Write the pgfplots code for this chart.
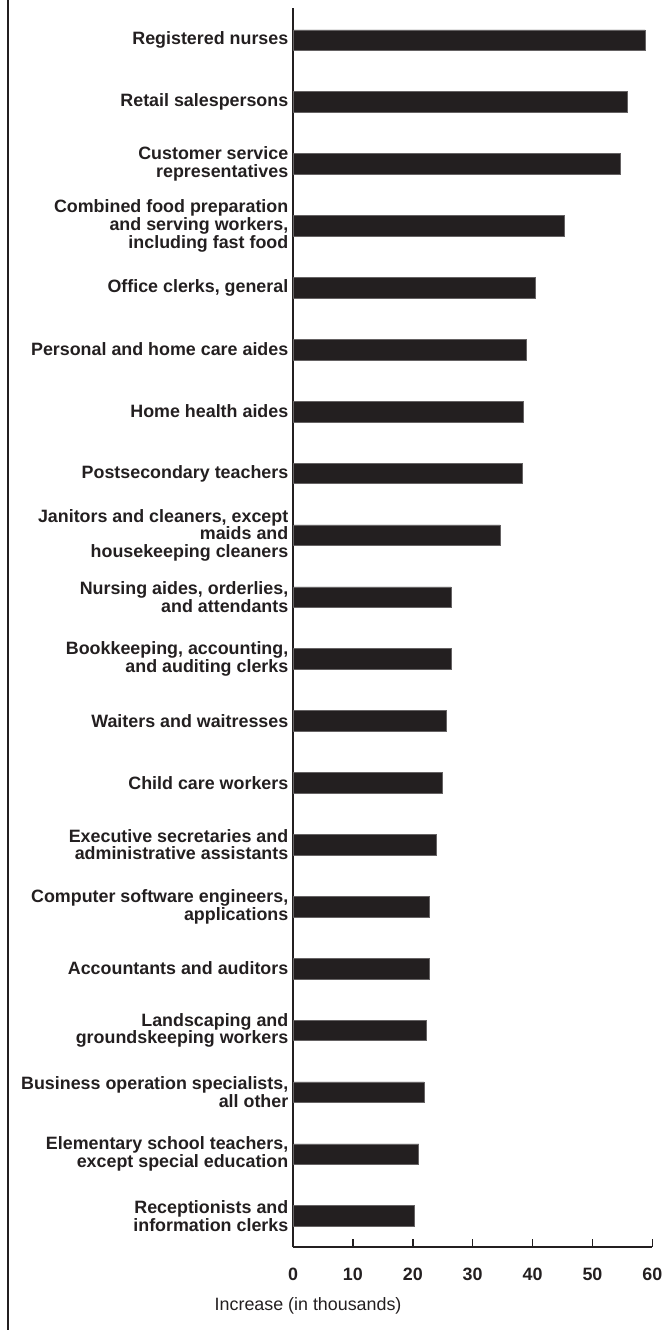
\documentclass[border=0pt]{standalone}
\usepackage{fontspec}
\setmainfont{Liberation Sans}
\usepackage{pgfplots}
\pgfplotsset{compat=1.18}
\definecolor{barblack}{RGB}{35,31,32}

\pgfplotstableread{
y  val
0  20.3
1  21.0
2  21.9
3  22.2
4  22.7
5  22.7
6  24.0
7  24.9
8  25.6
9  26.4
10 26.4
11 34.6
12 38.3
13 38.4
14 38.9
15 40.5
16 45.3
17 54.6
18 55.8
19 58.8
}\jobs

\begin{document}
\begin{tikzpicture}
\useasboundingbox (-219.75pt,-62.25pt) rectangle (282.75pt,935.25pt);
% frame edge on the left
\draw[line width=1.8pt, barblack] (-213.75pt,-62.25pt) -- (-213.75pt,935.25pt);
\begin{axis}[
    at={(0,0)}, anchor=south west,
    scale only axis,
    width=269.5pt, height=929.25pt,
    xbar, bar width=15.5pt,
    xmin=0, xmax=60,
    ymin=-0.5, ymax=19.52,
    axis lines*=left,
    axis line style={line width=1.5pt, barblack},
    xtick={0,10,...,60},
    tick align=inside,
    major tick length=6pt,
    xtick style={line width=1.2pt, barblack},
    ytick={0,...,19},
    ytick style={draw=none},
    /pgf/number format/assume math mode=true,
    xticklabel style={font=\fontsize{13.4}{13.4}\selectfont\bfseries, text=barblack, yshift=-12pt},
    yticklabel style={font=\fontsize{13.4}{13.2}\selectfont\bfseries, align=right, text=barblack},
    yticklabels={
      {Receptionists and\\information clerks},
      {Elementary school teachers,\\except special education},
      {Business operation specialists,\\all other},
      {Landscaping and\\groundskeeping workers},
      {Accountants and auditors},
      {Computer software engineers,\\applications},
      {Executive secretaries and\\administrative assistants},
      {Child care workers},
      {Waiters and waitresses},
      {Bookkeeping, accounting,\\and auditing clerks},
      {Nursing aides, orderlies,\\and attendants},
      {Janitors and cleaners, except\\maids and\\housekeeping cleaners},
      {Postsecondary teachers},
      {Home health aides},
      {Personal and home care aides},
      {Office clerks, general},
      {Combined food preparation\\and serving workers,\\including fast food},
      {Customer service\\representatives},
      {Retail salespersons},
      {Registered nurses}
    },
    xlabel={Increase (in thousands)},
    xlabel style={at={(axis description cs:0.042,0)}, anchor=center, yshift=-44pt,
      font=\fontsize{13.4}{13.4}\selectfont, text=barblack},
    clip=false,
]
\addplot[fill=barblack, draw=barblack!70, line width=0.4pt] table[x=val, y=y] {\jobs};
\end{axis}
\end{tikzpicture}
\end{document}
